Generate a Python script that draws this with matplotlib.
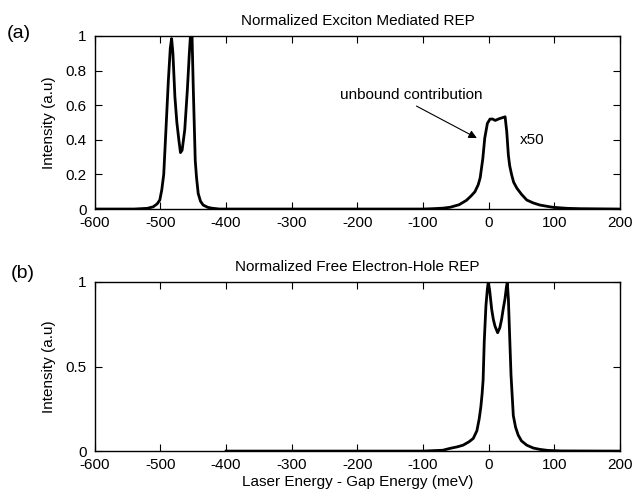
import matplotlib
matplotlib.use("Agg")
import matplotlib.pyplot as plt
import numpy as np

plt.rcParams['font.family'] = ['Liberation Sans', 'DejaVu Sans']
plt.rcParams['font.size'] = 11
plt.rcParams['axes.unicode_minus'] = False

# (a) exciton mediated REP, bound peaks plus unbound part (already x50)
exc_x = [-600, -540, -520, -511, -505, -501, -498, -495, -492, -488, -485, -483,
         -481, -478, -475, -472, -469.5, -467, -463, -459, -456, -454, -452,
         -450, -447, -445, -442.5, -439, -435, -428, -422, -410,
         -100, -85, -70, -59, -45, -34, -27, -21, -16, -13, -9, -6, -2, 2, 6,
         10, 16, 21, 25, 27.5, 30, 32, 35, 38, 43, 50, 58, 68, 78, 90, 98,
         120, 140, 200]
exc_y = [0, 0, 0.004, 0.013, 0.03, 0.052, 0.11, 0.2, 0.43, 0.74, 0.93, 0.985,
         0.9, 0.65, 0.5, 0.4, 0.326, 0.34, 0.457, 0.69, 0.9, 1.02, 1.02,
         0.7, 0.28, 0.18, 0.09, 0.045, 0.023, 0.01, 0.005, 0,
         0, 0.002, 0.005, 0.01, 0.025, 0.05, 0.075, 0.1, 0.14, 0.18, 0.29, 0.41, 0.495, 0.52, 0.52,
         0.512, 0.522, 0.528, 0.533, 0.447, 0.31, 0.25, 0.197, 0.155, 0.12, 0.085, 0.052, 0.035, 0.023, 0.015, 0.01,
         0.004, 0.002, 0]

# (b) free electron-hole REP
free_x = [-400, -100, -70, -59, -48, -39, -30, -23.5, -18, -14.5, -12, -10, -8.5,
          -6.8, -4.2, -2, -0.6, 1.5, 4.5, 7, 9.5, 13.6, 17, 19.7, 22.5, 24.8, 27,
          28.3, 30, 31.4, 34, 37.5, 41, 45, 50, 58, 68, 78, 90, 110, 200]
free_y = [0, 0, 0.005, 0.016, 0.025, 0.035, 0.055, 0.075, 0.12, 0.19, 0.26, 0.34, 0.42,
          0.645, 0.86, 0.96, 1.0, 0.95, 0.84, 0.78, 0.74, 0.70, 0.73, 0.78, 0.85, 0.9, 0.97,
          1.0, 0.9, 0.74, 0.45, 0.21, 0.14, 0.094, 0.06, 0.035, 0.018, 0.01, 0.004, 0.001, 0]

xticks = [-600, -500, -400, -300, -200, -100, 0, 100, 200]
yticks_a = [0, 0.2, 0.4, 0.6, 0.8, 1]
yticks_b = [0, 0.5, 1]

fig = plt.figure(figsize=(6.32, 4.93), dpi=100)
ax1 = fig.add_axes([0.150, 0.576, 0.831, 0.351])
ax2 = fig.add_axes([0.150, 0.085, 0.831, 0.343])

for ax in (ax1, ax2):
    ax.set_xlim(-600, 200)
    ax.set_ylim(0, 1)
    ax.set_xticks(xticks)
    ax.tick_params(direction='in', top=True, right=True, length=5, width=0.8)
    ax.tick_params(axis='x', pad=5)
    ax.tick_params(axis='y', pad=6)
    for s in ax.spines.values():
        s.set_linewidth(1.0)
    ax.set_ylabel('Intensity (a.u)', labelpad=7)

ax1.plot(exc_x, exc_y, color='black', lw=2.0, solid_joinstyle='round')
ax1.set_yticks(yticks_a)
ax1.set_yticklabels(['0', '0.2', '0.4', '0.6', '0.8', '1'])
ax1.set_title('Normalized Exciton Mediated REP', fontsize=11, pad=8)
ax1.text(-118, 0.66, 'unbound contribution', ha='center', va='center')
ax1.annotate('', xy=(-18, 0.41), xytext=(-110, 0.595),
             arrowprops=dict(arrowstyle='-|>', color='black', lw=0.8,
                             shrinkA=0, shrinkB=0, mutation_scale=12))
ax1.text(48, 0.40, 'x50', ha='left', va='center')

ax2.plot(free_x, free_y, color='black', lw=2.0, solid_joinstyle='round')
ax2.set_yticks(yticks_b)
ax2.set_yticklabels(['0', '0.5', '1'])
ax2.set_title('Normalized Free Electron-Hole REP', fontsize=11, pad=8)
ax2.set_xlabel('Laser Energy - Gap Energy (meV)', labelpad=2)

fig.text(0.011, 0.933, '(a)', fontsize=14, va='center', ha='left')
fig.text(0.017, 0.446, '(b)', fontsize=14, va='center', ha='left')

fig.savefig('out.png', dpi=100)
